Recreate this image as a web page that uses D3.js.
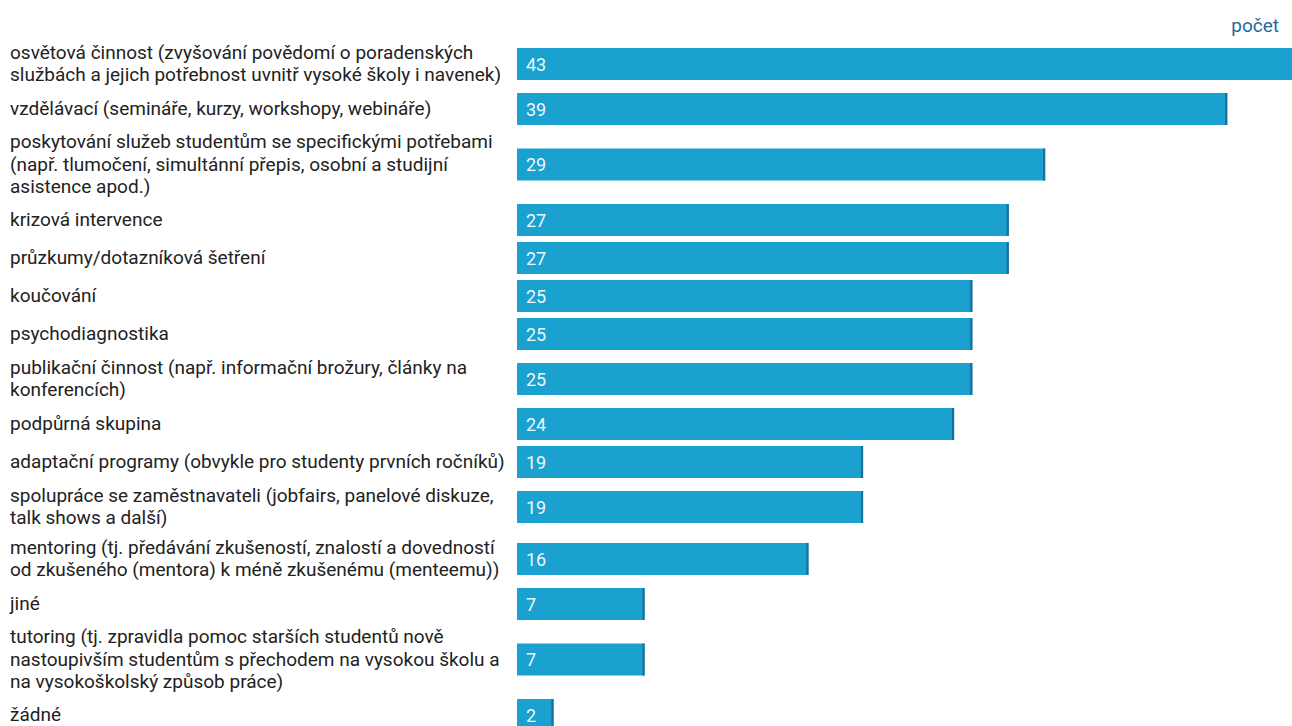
<!DOCTYPE html>
<html>
<head>
<meta charset="utf-8">
<script src="https://cdn.jsdelivr.net/npm/d3@7"></script>
<style>
  html, body { margin: 0; padding: 0; background: #ffffff; overflow: hidden; }
  svg { display: block; font-family: Roboto, "Noto Sans", sans-serif; }
</style>
</head>
<body>
<svg id="chart" width="1292" height="726"></svg>
<script>
// ---- data ----
const categories = [
  ["osvětová činnost (zvyšování povědomí o poradenských", "službách a jejich potřebnost uvnitř vysoké školy i navenek)"],
  ["vzdělávací (semináře, kurzy, workshopy, webináře)"],
  ["poskytování služeb studentům se specifickými potřebami", "(např. tlumočení, simultánní přepis, osobní a studijní", "asistence apod.)"],
  ["krizová intervence"],
  ["průzkumy/dotazníková šetření"],
  ["koučování"],
  ["psychodiagnostika"],
  ["publikační činnost (např. informační brožury, články na", "konferencích)"],
  ["podpůrná skupina"],
  ["adaptační programy (obvykle pro studenty prvních ročníků)"],
  ["spolupráce se zaměstnavateli (jobfairs, panelové diskuze,", "talk shows a další)"],
  ["mentoring (tj. předávání zkušeností, znalostí a dovedností", "od zkušeného (mentora) k méně zkušenému (menteemu))"],
  ["jiné"],
  ["tutoring (tj. zpravidla pomoc starších studentů nově", "nastoupivším studentům s přechodem na vysokou školu a", "na vysokoškolský způsob práce)"],
  ["žádné"]
];
const values = [43, 39, 29, 27, 27, 25, 25, 25, 24, 19, 19, 16, 7, 7, 2];
const axisTitle = "počet";

// ---- layout ----
const W = 1292, H = 726;
const barX0 = 517, barH = 32, lineH = 22.5;
const rowH = n => n === 1 ? 38 : (n === 2 ? 52 : 73);

// row centers from label line counts
const centers = [];
let c = 64;
categories.forEach((lines, i) => {
  if (i > 0) c += (rowH(categories[i - 1].length) + rowH(lines.length)) / 2;
  centers.push(c);
});

const x = d3.scaleLinear().domain([0, 43]).range([barX0, 1300]);

const svg = d3.select("#chart");

const rows = svg.selectAll("g.row")
  .data(values.map((v, i) => ({ v, lines: categories[i], cy: centers[i] })))
  .join("g").attr("class", "row");

// bars
rows.append("rect")
  .attr("x", x(0))
  .attr("y", d => d.cy - barH / 2)
  .attr("width", d => x(d.v) - x(0))
  .attr("height", barH)
  .attr("fill", "#1aa1cf");

// darker right edge
rows.append("rect")
  .attr("x", d => x(d.v) - 2)
  .attr("y", d => d.cy - barH / 2)
  .attr("width", 2.2)
  .attr("height", barH)
  .attr("fill", "#1b6f98");

// value labels
rows.append("text")
  .attr("x", x(0) + 9)
  .attr("y", d => d.cy + 6.5)
  .attr("font-size", 18)
  .attr("fill", "#eef8fc")
  .text(d => d.v);

// category labels
rows.append("text")
  .attr("font-size", 19)
  .attr("fill", "#222222")
  .each(function(d) {
    const t = d3.select(this);
    const n = d.lines.length;
    d.lines.forEach((ln, j) => {
      t.append("tspan")
        .attr("x", 10)
        .attr("y", d.cy - (n - 1) * lineH / 2 + j * lineH + 6)
        .text(ln);
    });
  });

// axis title
svg.append("text")
  .attr("x", 1279)
  .attr("y", 32)
  .attr("text-anchor", "end")
  .attr("font-size", 19)
  .attr("fill", "#1f6a97")
  .text(axisTitle);
</script>
</body>
</html>
